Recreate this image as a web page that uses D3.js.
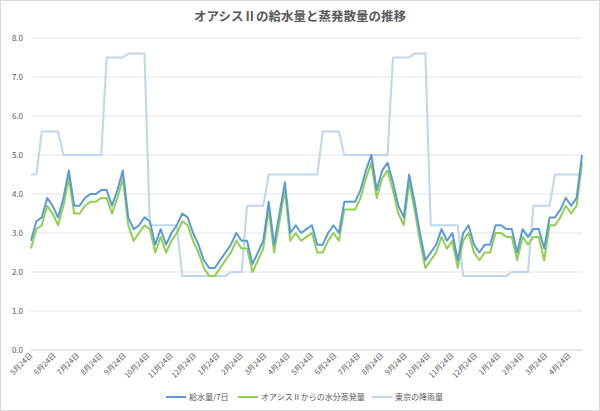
<!DOCTYPE html>
<html><head><meta charset="utf-8">
<script src="https://cdn.jsdelivr.net/npm/d3@7"></script>
<style>
body{margin:0;background:#fff;font-family:"Noto Sans CJK JP","Noto Sans",sans-serif;}
</style></head>
<body><svg id="chart" width="600" height="411"></svg>
<script>
// ===== data (weekly) =====
const monthLabels = ["5月24日","6月24日","7月24日","8月24日","9月24日","10月24日","11月24日","12月24日","1月24日","2月24日","3月24日","4月24日",
  "5月24日","6月24日","7月24日","8月24日","9月24日","10月24日","11月24日","12月24日","1月24日","2月24日","3月24日","4月24日"];
const supply = [2.8,3.3,3.4,3.9,3.7,3.4,3.9,4.6,3.7,3.7,3.9,4.0,4.0,4.1,4.1,3.7,4.1,4.6,3.4,3.1,
  3.2,3.4,3.3,2.7,3.1,2.7,3.0,3.2,3.5,3.4,3.0,2.7,2.3,2.1,2.1,2.3,2.5,2.7,3.0,2.8,
  2.8,2.2,2.5,2.8,3.8,2.7,3.5,4.3,3.0,3.2,3.0,3.1,3.2,2.7,2.7,3.0,3.2,3.0,3.8,3.8,
  3.8,4.1,4.6,5.0,4.1,4.6,4.8,4.3,3.7,3.4,4.5,3.8,3.0,2.3,2.5,2.7,3.1,2.8,3.0,2.3,
  3.0,3.2,2.7,2.5,2.7,2.7,3.2,3.2,3.1,3.1,2.5,3.1,2.9,3.1,3.1,2.6,3.4,3.4,3.6,3.9,3.7,3.9,5.0];
const evap = [2.6,3.1,3.2,3.7,3.5,3.2,3.7,4.4,3.5,3.5,3.7,3.8,3.8,3.9,3.9,3.5,3.9,4.4,3.2,2.8,
  3.0,3.2,3.1,2.5,2.9,2.5,2.8,3.0,3.3,3.2,2.8,2.5,2.1,1.9,1.9,2.1,2.3,2.5,2.8,2.6,
  2.6,2.0,2.3,2.6,3.6,2.5,3.3,4.1,2.8,3.0,2.8,2.9,3.0,2.5,2.5,2.8,3.0,2.8,3.6,3.6,
  3.6,3.9,4.4,4.8,3.9,4.4,4.6,4.1,3.5,3.2,4.3,3.6,2.8,2.1,2.3,2.5,2.9,2.6,2.8,2.1,
  2.8,3.0,2.5,2.3,2.5,2.5,3.0,3.0,2.9,2.9,2.3,2.9,2.7,2.9,2.9,2.3,3.2,3.2,3.4,3.7,3.5,3.7,4.8];
const rain = [4.5,4.5,5.6,5.6,5.6,5.6,5.0,5.0,5.0,5.0,5.0,5.0,5.0,5.0,7.5,7.5,7.5,7.5,7.6,7.6,
  7.6,7.6,3.2,3.2,3.2,3.2,3.2,3.2,1.9,1.9,1.9,1.9,1.9,1.9,1.9,1.9,1.9,2.0,2.0,2.0,
  3.7,3.7,3.7,3.7,4.5,4.5,4.5,4.5,4.5,4.5,4.5,4.5,4.5,4.5,5.6,5.6,5.6,5.6,5.0,5.0,
  5.0,5.0,5.0,5.0,5.0,5.0,5.0,7.5,7.5,7.5,7.5,7.6,7.6,7.6,3.2,3.2,3.2,3.2,3.2,3.2,
  1.9,1.9,1.9,1.9,1.9,1.9,1.9,1.9,1.9,2.0,2.0,2.0,2.0,3.7,3.7,3.7,3.7,4.5,4.5,4.5,4.5,4.5,4.5];
const yTicks = [0,1,2,3,4,5,6,7,8];

const series = [
  {name:"東京の降雨量", values:rain, color:"#bdd7ee"},
  {name:"オアシスⅡからの水分蒸発量", values:evap, color:"#8fd14f"},
  {name:"給水量/7日", values:supply, color:"#5b9bd5"}
];
const legendOrder = [series[2], series[1], series[0]];

// ===== layout =====
const svg = d3.select("#chart");
svg.append("rect").attr("x",0.5).attr("y",0.5).attr("width",599).attr("height",410)
  .attr("fill","#fff").attr("stroke","#d9d9d9");

const x = d3.scaleLinear().domain([0, supply.length - 1]).range([31, 582]);
const y = d3.scaleLinear().domain([0, 8]).range([350, 38]);
const weeksPerMonth = 52 / 12;

svg.append("text").attr("x",300).attr("y",21).attr("text-anchor","middle")
  .attr("font-size",12.5).attr("font-weight","bold").attr("fill","#595959")
  .text("オアシスⅡの給水量と蒸発散量の推移");

// grid + y labels
svg.append("g").selectAll("line").data(yTicks).join("line")
  .attr("x1",31).attr("x2",582).attr("y1",d=>y(d)).attr("y2",d=>y(d))
  .attr("stroke",d=>d===0?"#d0d0d0":"#e3e3e3").attr("stroke-width",1);
svg.append("g").selectAll("text").data(yTicks).join("text")
  .attr("x",23).attr("y",d=>y(d)+3).attr("text-anchor","end")
  .attr("font-size",8).attr("fill","#595959").text(d=>d.toFixed(1));

// x labels (rotated)
svg.append("g").selectAll("text").data(monthLabels).join("text")
  .attr("transform",(d,i)=>`translate(${x(i*weeksPerMonth)+2},${356}) rotate(-45)`)
  .attr("text-anchor","end").attr("font-size",7.5).attr("fill","#595959").text(d=>d);

// lines
const line = d3.line().x((d,i)=>x(i)).y(d=>y(d));
svg.append("g").selectAll("path").data(series).join("path")
  .attr("d",d=>line(d.values)).attr("fill","none")
  .attr("stroke",d=>d.color).attr("stroke-width",2).attr("stroke-linejoin","round");

// legend
const lg = svg.append("g").attr("transform","translate(0,397)");
const lx = [166, 238, 372];
legendOrder.forEach((s,i)=>{
  lg.append("line").attr("x1",lx[i]).attr("x2",lx[i]+20).attr("y1",0).attr("y2",0)
    .attr("stroke",s.color).attr("stroke-width",2);
  lg.append("text").attr("x",lx[i]+23).attr("y",3).attr("font-size",8)
    .attr("fill","#595959").text(s.name);
});
</script></body></html>
